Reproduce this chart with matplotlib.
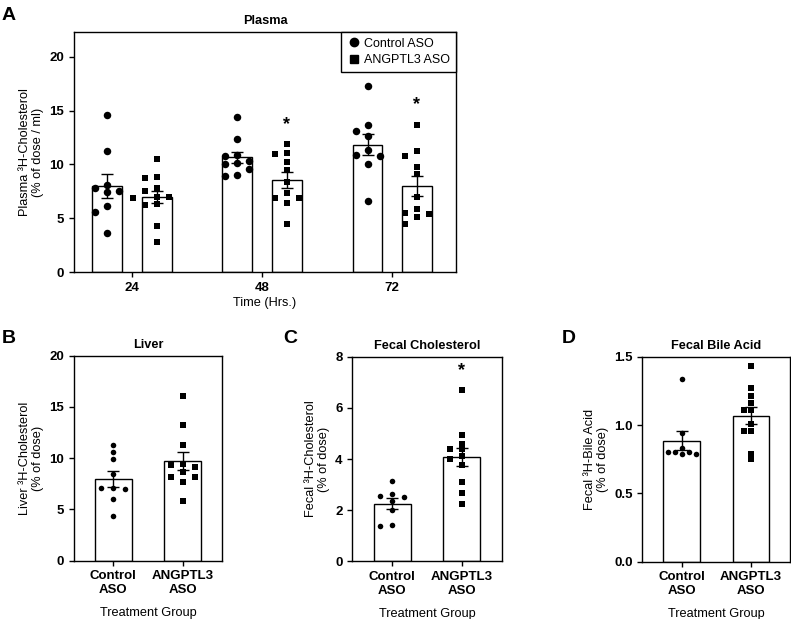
import matplotlib.pyplot as plt
import numpy as np
from matplotlib.lines import Line2D

plt.rcParams["font.family"] = ["Liberation Sans", "DejaVu Sans"]
plt.rcParams["axes.linewidth"] = 1.0
plt.rcParams["xtick.major.width"] = 1.0
plt.rcParams["ytick.major.width"] = 1.0
plt.rcParams["xtick.major.size"] = 3.5
plt.rcParams["ytick.major.size"] = 3.5

##############################################################################
# Values (one list per animal group)

# A: plasma 3H-cholesterol, % of dose / ml
plasma_times = ["24", "48", "72"]
plasma_control = [
    [14.6, 11.2, 8.1, 7.8, 7.5, 7.4, 6.1, 5.55, 3.65],
    [14.4, 12.4, 10.9, 10.8, 10.3, 10.1, 10.0, 9.6, 9.0, 8.9],
    [17.3, 13.7, 13.1, 12.6, 11.3, 10.9, 10.8, 10.0, 6.6],
]
plasma_angptl3 = [
    [10.5, 8.8, 8.7, 7.8, 7.5, 6.95, 6.95, 6.9, 6.3, 6.2, 4.3, 2.8],
    [11.9, 11.1, 10.95, 10.2, 9.5, 8.4, 7.3, 6.9, 6.9, 6.4, 4.5],
    [13.7, 11.2, 10.8, 9.8, 9.1, 7.0, 5.9, 5.5, 5.4, 5.1, 4.5],
]
plasma_star = [False, True, True]

# B-D: single time point, two treatment groups
groups = ["Control\nASO", "ANGPTL3\nASO"]

liver_control = [11.3, 10.6, 9.9, 8.5, 7.1, 7.1, 7.0, 6.0, 4.4]
liver_angptl3 = [16.1, 13.2, 11.3, 9.4, 9.3, 9.15, 8.65, 8.2, 8.2, 7.65, 5.85]

fecal_chol_control = [3.15, 2.65, 2.55, 2.5, 2.35, 2.0, 1.42, 1.38]
fecal_chol_angptl3 = [6.68, 4.93, 4.59, 4.4, 4.38, 4.12, 3.99, 3.77, 3.1, 2.67, 2.24]

bile_control = [1.34, 0.944, 0.833, 0.80, 0.80, 0.80, 0.79, 0.785]
bile_angptl3 = [1.43, 1.27, 1.21, 1.16, 1.11, 1.11, 1.01, 0.96, 0.96, 0.79, 0.75]


##############################################################################
# helpers


def swarm_x(ax, center, values, step_px, gap_px):
    """Spread points sideways (in pixels) so that close values do not overlap."""
    p = ax.transData.transform([(0, 0), (1, 1)])
    sx, sy = p[1] - p[0]
    placed = []
    xs = np.zeros(len(values))
    for i in np.argsort(values)[::-1]:
        y = values[i] * sy
        for k in [0, -1, 1, -2, 2, -3, 3, -4, 4]:
            x = k * step_px
            if all(np.hypot(x - a, y - b) >= gap_px for a, b in placed):
                break
        placed.append((x, y))
        xs[i] = center + x / sx
    return xs


def draw_group(ax, x, values, marker, size, width, step_px, gap_px, star=False):
    values = np.asarray(values, dtype=float)
    mean = values.mean()
    sem = values.std(ddof=1) / np.sqrt(len(values))
    ax.bar(x, mean, width, color="white", edgecolor="black", linewidth=1.0, zorder=1)
    xs = swarm_x(ax, x, values, step_px, gap_px)
    ax.scatter(xs, values, marker=marker, s=size**2, color="black",
               linewidths=0, zorder=2)
    ax.errorbar(x, mean, yerr=sem, fmt="none", ecolor="black", elinewidth=1.0,
                capsize=4.5, capthick=1.0, zorder=3)
    if star:
        ax.annotate("*", (x, values.max()), xytext=(0, 8), textcoords="offset points",
                    ha="center", va="bottom", fontsize=13, fontweight="bold")


W, H = 791, 619


def add_axes(fig, left, right, top, bottom):
    return fig.add_axes([left / W, 1 - bottom / H, (right - left) / W, (bottom - top) / H])


def style(ax, title, ylabel):
    ax.set_title(title, fontsize=9.2, fontweight="bold", pad=5.5)
    ax.set_ylabel(ylabel, fontsize=9.2, labelpad=4, linespacing=1.1)
    for lab in ax.get_xticklabels() + ax.get_yticklabels():
        lab.set_fontweight("bold")
        lab.set_fontsize(9.5)


fig = plt.figure(figsize=(W / 100, H / 100), dpi=100)

##############################################################################
# A: plasma time course

ax = add_axes(fig, 74, 456, 32, 272)
ax.set_xlim(-0.446, 2.49)
ax.set_ylim(0, 22.3)
offset, width = 0.19, 0.23
for i in range(len(plasma_times)):
    draw_group(ax, i - offset, plasma_control[i], "o", 5.4, width, 12, 6.5)
    draw_group(ax, i + offset, plasma_angptl3[i], "s", 5.0, width, 12, 6.5,
               star=plasma_star[i])
ax.set_xticks(range(len(plasma_times)), plasma_times)
ax.set_yticks([0, 5, 10, 15, 20])
ax.set_xlabel("Time (Hrs.)", fontsize=9.2, labelpad=2)
style(ax, "Plasma", "Plasma ³H-Cholesterol\n(% of dose / ml)")
handles = [
    Line2D([], [], marker="o", ls="none", color="black", markersize=6),
    Line2D([], [], marker="s", ls="none", color="black", markersize=5.5),
]
leg = ax.legend(handles, ["Control ASO", "ANGPTL3 ASO"], loc="upper right",
                fontsize=9, borderaxespad=0, fancybox=False, framealpha=1,
                handletextpad=0.2, handlelength=1.2, borderpad=0.45,
                labelspacing=0.35)
leg.get_frame().set_edgecolor("black")
leg.get_frame().set_linewidth(1.0)

##############################################################################
# B-D: end-point measurements

panels = [
    ((74, 222, 355.7, 560.7), "Liver", "Liver ³H-Cholesterol\n(% of dose)",
     liver_control, liver_angptl3, (0, 20), [0, 5, 10, 15, 20], False, "B", 2),
    ((352.3, 501.7, 356.7, 561.3), "Fecal Cholesterol", "Fecal ³H-Cholesterol\n(% of dose)",
     fecal_chol_control, fecal_chol_angptl3, (0, 8), [0, 2, 4, 6, 8], True, "C", 283),
    ((642.3, 790.5, 356.7, 561.7), "Fecal Bile Acid", "Fecal ³H-Bile Acid\n(% of dose)",
     bile_control, bile_angptl3, (0, 1.5), [0.0, 0.5, 1.0, 1.5], False, "D", 562),
]
for box, title, ylabel, ctrl, ang, ylim, yticks, star, letter, lx in panels:
    ax = add_axes(fig, *box)
    ax.set_xlim(-0.57, 1.57)
    ax.set_ylim(*ylim)
    step = 7 if letter == "D" else 12
    draw_group(ax, 0, ctrl, "o", 4.0, 0.53, step, 4.8)
    draw_group(ax, 1, ang, "s", 3.8, 0.53, step, 4.8, star=star)
    ax.set_xticks([0, 1], groups)
    ax.set_yticks(yticks)
    if letter == "D":
        ax.set_yticklabels([f"{t:.1f}" for t in yticks])
    ax.set_xlabel("Treatment Group", fontsize=9.2, labelpad=8)
    style(ax, title, ylabel)
    fig.text(lx / W, 1 - 343 / H, letter, fontsize=14, fontweight="bold", va="baseline")

fig.text(2 / W, 1 - 20 / H, "A", fontsize=14, fontweight="bold", va="baseline")

fig.savefig("out.png", dpi=100)
